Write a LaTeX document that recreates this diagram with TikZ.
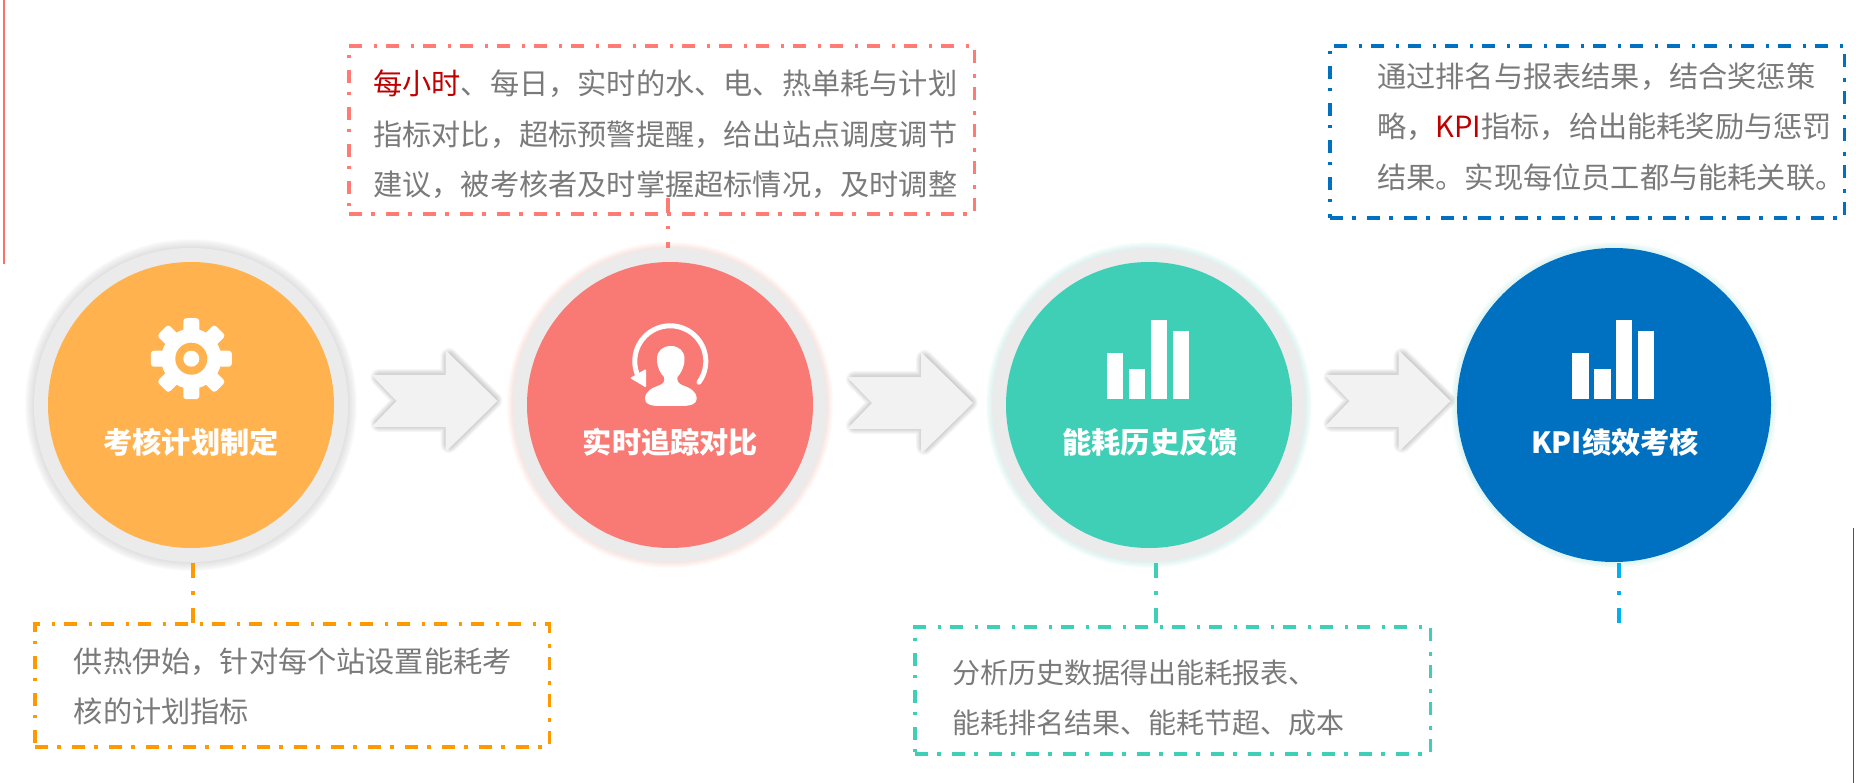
\documentclass[tikz,border=0pt]{standalone}
\usepackage{fontspec}
\setmainfont{Noto Sans CJK SC}
\definecolor{cOrange}{HTML}{FFB24D}
\definecolor{cRed}{HTML}{F97A74}
\definecolor{cGreen}{HTML}{3ECFB6}
\definecolor{cBlue}{HTML}{0070C0}
\definecolor{cRing}{HTML}{EBEBEB}
\definecolor{lOrange}{HTML}{FF9900}
\definecolor{lRed}{HTML}{FF7B74}
\definecolor{lGreen}{HTML}{3ECFB6}
\definecolor{lBlue}{HTML}{0070C0}
\definecolor{lSky}{HTML}{00B0F0}
\definecolor{txtGray}{HTML}{7A7A7A}
\definecolor{txtRed}{HTML}{C00000}
\definecolor{arrowFill}{HTML}{F2F2F2}
\definecolor{glowGray}{HTML}{B0B0B0}
\definecolor{glowRed}{HTML}{F8A090}
\definecolor{glowGreen}{HTML}{80E0CC}
\tikzset{
  ringnode/.style={circle,fill=cRing,minimum size=314pt,inner sep=0pt,outer sep=0pt},
  corenode/.style={circle,minimum size=286pt,inner sep=0pt,outer sep=0pt},
  titlenode/.style={text=white,inner sep=0pt,font=\fontsize{29.2}{32}\selectfont\bfseries},
  bodytext/.style={text=txtGray,inner sep=0pt,anchor=west,align=left,font=\fontsize{29.2}{50.5}\selectfont},
  boxnode/.style={draw=#1,line width=3.2pt,inner sep=0pt,outer sep=0pt,dash pattern=on 13pt off 9pt on 3.5pt off 11.5pt},
  link/.style={draw=#1,line width=3.6pt,dash pattern=on 15pt off 13pt on 3.5pt off 13pt},
  iconbar/.style={fill=white},
}
\newcommand{\softglow}[5]{%
  \foreach \gi in {1,...,#5}{\fill[#4,opacity=0.045] (#1,#2) circle[radius={(#3+\gi)*1pt}];}}
\newcommand{\notchshape}{(372,375) -- (446,375) -- (446,350) -- (498,401) -- (446,452) -- (446,427) -- (372,427) -- (397,401) -- cycle}
\newcommand{\notchinset}{(379,378) -- (449,378) -- (449,357) -- (493.8,401) -- (449,445) -- (449,424) -- (379,424) -- (401,401) -- cycle}
\newcommand{\notcharrow}[2]{%
  \begin{scope}[shift={(#1,#2)}]
    \begin{scope}[shift={(0.5,-0.5)}]
    \foreach \gi in {1,...,7}{\draw[black,opacity=0.04,line width={\gi*2.4pt},line join=round] \notchinset;}
    \end{scope}
    \fill[arrowFill] \notchshape;
  \end{scope}}
\newcommand{\barsicon}[1]{%
  \begin{scope}[shift={(#1,0)}]
    \fill[iconbar] (1107,353) rectangle (1123.4,399);
    \fill[iconbar] (1129,369) rectangle (1145.3,399);
    \fill[iconbar] (1151,320) rectangle (1167,399);
    \fill[iconbar] (1172.7,331) rectangle (1189,399);
  \end{scope}}
\begin{document}
\begin{tikzpicture}[x=1pt,y=-1pt]
\useasboundingbox (0,0) rectangle (1856,783);
\fill[white] (0,0) rectangle (1856,783);

% stray edge rules
\coordinate (ea) at (4,0); \coordinate (eb) at (4,264);
\draw[line width=2pt,color=lRed!90!red] (ea) -- (eb);
\coordinate (ec) at (1853.5,528); \coordinate (ed) at (1853.5,783);
\draw[line width=1pt,color=red!70!black!85] (ec) -- (ed);

% glows
\softglow{191}{405}{157}{glowGray}{9}
\softglow{670}{405}{157}{glowRed}{6}
\softglow{1149}{405}{157}{glowGreen}{6}
\softglow{1614}{405}{157}{glowGreen}{6}

% circles
\node[ringnode] (c1) at (191,405) {};
\node[corenode,fill=cOrange] (d1) at (191,405) {};
\node[ringnode] (c2) at (670,405) {};
\node[corenode,fill=cRed] (d2) at (670,405) {};
\node[ringnode] (c3) at (1149,405) {};
\node[corenode,fill=cGreen] (d3) at (1149,405) {};
\node[ringnode,fill=cBlue] (c4) at (1614,405) {};

% arrows
\notcharrow{-0.5}{0}
\notcharrow{475}{2}
\notcharrow{952.5}{0}

% gear icon
\fill[white] (191.3,358.7) circle[radius=30pt];
\foreach \ga in {0,45,...,315}{
  \fill[white,rounded corners=3pt,rotate around={\ga:(191.3,358.7)}] (183.3,318.2) rectangle (199.3,345);
}
\fill[cOrange] (191.3,358.7) circle[radius=16pt];
\fill[white] (191.3,358.7) circle[radius=8pt];

% person icon
\fill[white] (670.8,346) .. controls (679,346) and (684.5,351) .. (684.5,359)
  .. controls (684.5,367) and (681,373) .. (677.5,377)
  .. controls (677,381) and (678,383) .. (682,385)
  .. controls (690,388) and (696.7,391) .. (696.7,399)
  .. controls (696.7,404) and (690,406) .. (683,406)
  -- (658,406) .. controls (651,406) and (645,404) .. (645,399)
  .. controls (645,391) and (652,388) .. (660,385)
  .. controls (664,383) and (665,381) .. (664,377)
  .. controls (660,373) and (657,367) .. (657,359)
  .. controls (657,351) and (662.5,346) .. (670.8,346) -- cycle;
\draw[white,line width=5pt,line cap=round] plot[domain=-36:200,samples=70,smooth] ({670.3+35.5*cos(\x)},{361.3-35.5*sin(\x)});
\fill[white,rounded corners=1pt] (630,378) -- (646,387.5) -- (646,369) -- cycle;

% bar icons
\barsicon{0}
\barsicon{465.2}

% titles
\node[titlenode] (t1) at (191,442) {考核计划制定};
\node[titlenode] (t2) at (670.5,442) {实时追踪对比};
\node[titlenode] (t3) at (1150,442) {能耗历史反馈};
\node[titlenode] (t4) at (1615,442) {KPI绩效考核};

% boxes
\node[boxnode=lOrange,minimum width=514.6pt,minimum height=123pt] (b1) at (292.3,685.5) {};
\node[boxnode=lRed,minimum width=625.6pt,minimum height=168pt] (b2) at (661.8,130) {};
\node[boxnode=lGreen,minimum width=515.6pt,minimum height=127pt] (b3) at (1172.8,690.5) {};
\node[boxnode=lBlue,minimum width=514.6pt,minimum height=172pt] (b4) at (1587.3,132) {};

% body text
\node[bodytext] (x1) at (73.6,686.5) {供热伊始，针对每个站设置能耗考\\核的计划指标};
\node[bodytext] (x2) at (373,134.5) {\textcolor{txtRed}{每小时}、每日，实时的水、电、热单耗与计划\\指标对比，超标预警提醒，给出站点调度调节\\建议，被考核者及时掌握超标情况，及时调整};
\node[bodytext] (x3) at (952.6,698) [font=\fontsize{28}{50}\selectfont] {分析历史数据得出能耗报表、\\能耗排名结果、能耗节超、成本};
\node[bodytext] (x4) at (1377,126.5) {通过排名与报表结果，结合奖惩策\\略，\textcolor{txtRed}{KPI}指标，给出能耗奖励与惩罚\\结果。实现每位员工都与能耗关联。};

% connectors
\coordinate (k1) at (192.7,563);
\coordinate (k2) at (668,198);
\coordinate (k3) at (1156,563);
\coordinate (k4) at (1619,563);
\coordinate (k4e) at (1619,623);
\draw[link=lOrange] (k1) -- (k1 |- b1.north);
\draw[link=lRed] (k2) -- (k2 |- c2.north);
\draw[link=lGreen] (k3) -- (k3 |- b3.north);
\draw[link=lSky] (k4) -- (k4e);
\end{tikzpicture}
\end{document}
